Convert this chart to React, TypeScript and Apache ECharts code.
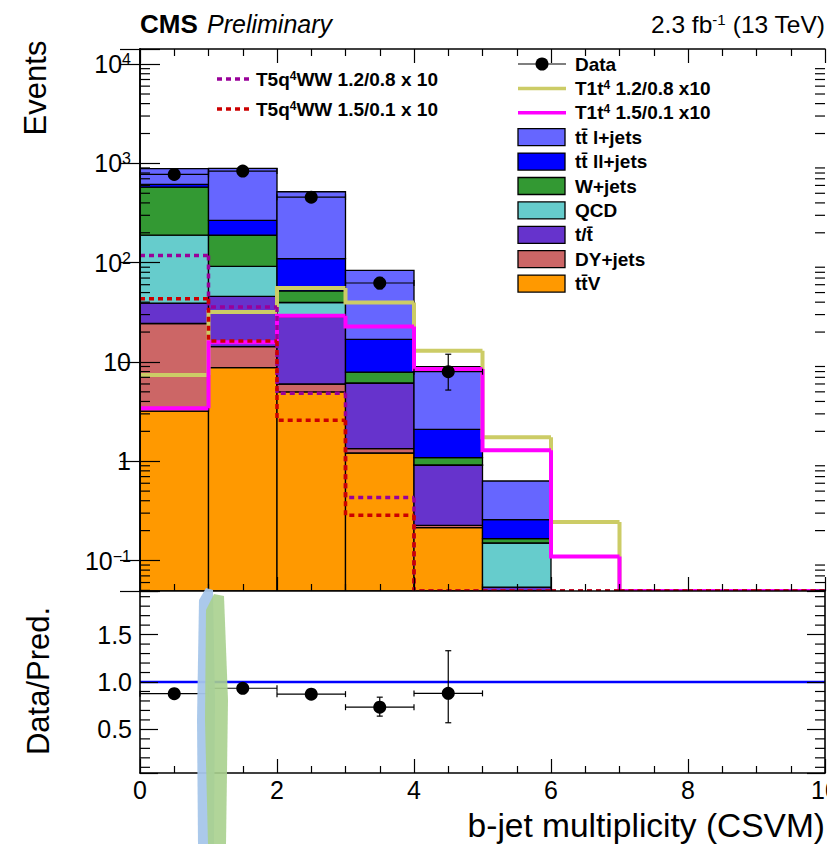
import React, { useEffect, useRef } from 'react';
import * as echarts from 'echarts';

// ---------------- data ----------------
const binLow = [0, 1, 2, 3, 4, 5, 6, 7, 8, 9];

// stacked backgrounds, bottom -> top
const ttV = [3.2, 8.75, 5.0, 1.21, 0.214, 0, 0, 0, 0, 0];
const dyJets = [21.2, 5.55, 1.0, 0.13, 0.012, 0, 0, 0, 0, 0];
const singleTop = [14.8, 31.4, 22.6, 4.76, 0.685, 0.054, 0, 0, 0, 0];
const qcd = [150, 46.1, 11.1, 0.05, 0.005, 0.096, 0, 0, 0, 0];
const wJets = [388, 97.2, 12.3, 1.75, 0.169, 0.016, 0, 0, 0, 0];
const ttDilep = [37, 78, 58, 9.0, 1.01, 0.092, 0, 0, 0, 0];
const ttSemilep = [270, 623, 408, 66.7, 6.88, 0.374, 0, 0, 0, 0];

// signals (x10)
const t1t4_12_08 = [7.4, 31.8, 55.6, 39.7, 13.0, 1.74, 0.244, 0, 0, 0];
const t1t4_15_01 = [3.41, 15.8, 29.2, 22.7, 8.5, 1.29, 0.11, 0, 0, 0];
const t5q4ww_12_08 = [118, 35.7, 4.83, 0.43, 0, 0, 0, 0, 0, 0];
const t5q4ww_15_01 = [43.3, 16.3, 2.59, 0.285, 0, 0, 0, 0, 0, 0];

// data
const dataX = [0.5, 1.5, 2.5, 3.5, 4.5];
const dataY = [774, 836, 457, 62.4, 7.98];
const dataLo = [748, 808, 436, 54.6, 5.21];
const dataHi = [801, 865, 479, 71.0, 11.96];

// ratio
const ratioY = [0.877, 0.934, 0.872, 0.734, 0.88];
const ratioLo = [0.845, 0.905, 0.835, 0.64, 0.57];
const ratioHi = [0.91, 0.965, 0.91, 0.84, 1.33];

const xTickLabels = ['0', '2', '4', '6', '8', '10'];

// ---------------- layout / style ----------------
const FONT = "'Liberation Sans', Arial, Helvetica, sans-serif";
const Y_MIN = 0.0493;
const Y_MAX = 14200;
const R_MIN = 0.04;
const R_MAX = 1.96;

const layers = [
  { name: 'tt\u0304V', color: '#ff9900', values: ttV },
  { name: 'DY+jets', color: '#cc6666', values: dyJets },
  { name: 't/t\u0304', color: '#6633cc', values: singleTop },
  { name: 'QCD', color: '#66cccc', values: qcd },
  { name: 'W+jets', color: '#339933', values: wJets },
  { name: 'tt\u0304 ll+jets', color: '#0000ff', values: ttDilep },
  { name: 'tt\u0304 l+jets', color: '#6666ff', values: ttSemilep },
];

function emptyGroup() {
  return { type: 'group', children: [] };
}

export default function App() {
  const ref = useRef<HTMLDivElement>(null);

  useEffect(() => {
    if (!ref.current) return;
    const chart = echarts.init(ref.current, undefined, { renderer: 'svg' });

    // stacked histogram layers
    let cum = binLow.map(() => 0);
    const stackSeries = layers.map((L) => {
      const data = binLow.map((x, i) => [x, cum[i], cum[i] + L.values[i]]);
      cum = cum.map((c, i) => c + L.values[i]);
      return {
        type: 'custom',
        name: L.name,
        xAxisIndex: 0,
        yAxisIndex: 0,
        clip: true,
        z: 2,
        data,
        renderItem: (params: any, api: any) => {
          const x = api.value(0);
          const lo = api.value(1);
          const hi = api.value(2);
          if (!(hi > lo) || hi <= Y_MIN) return emptyGroup();
          const p1 = api.coord([x, Math.max(hi, Y_MIN)]);
          const p2 = api.coord([x + 1, Math.max(lo, Y_MIN)]);
          return {
            type: 'rect',
            shape: { x: p1[0], y: p1[1], width: p2[0] - p1[0], height: p2[1] - p1[1] },
            style: { fill: L.color, stroke: '#000', lineWidth: 1.3 },
          };
        },
      };
    });

    const stepSeries = (vals: number[], color: string, width: number, dash: any, z: number) => ({
      type: 'custom',
      xAxisIndex: 0,
      yAxisIndex: 0,
      clip: true,
      z,
      data: binLow.map((x, i) => [x, vals[i], i > 0 ? vals[i - 1] : vals[i]]),
      renderItem: (params: any, api: any) => {
        const x = api.value(0);
        const v = Math.max(api.value(1), Y_MIN);
        const pv = Math.max(api.value(2), Y_MIN);
        const a = api.coord([x, pv]);
        const b = api.coord([x, v]);
        const c = api.coord([x + 1, v]);
        return {
          type: 'polyline',
          shape: { points: [a, b, c] },
          style: { stroke: color, lineWidth: width, lineDash: dash, fill: null },
        };
      },
    });

    const errorSeries = (xs: number[], ys: number[], los: number[], his: number[], xi: number, yi: number, z: number) => ({
      type: 'custom',
      xAxisIndex: xi,
      yAxisIndex: yi,
      clip: false,
      z,
      data: xs.map((x, i) => [x, ys[i], los[i], his[i]]),
      renderItem: (params: any, api: any) => {
        const x = api.value(0);
        const y = api.value(1);
        const l = api.coord([x - 0.5, y]);
        const r = api.coord([x + 0.5, y]);
        const lo = api.coord([x, api.value(2)]);
        const hi = api.coord([x, api.value(3)]);
        const st = { stroke: '#000', lineWidth: 1.2 };
        return {
          type: 'group',
          children: [
            { type: 'line', shape: { x1: l[0], y1: l[1], x2: r[0], y2: r[1] }, style: st },
            { type: 'line', shape: { x1: l[0], y1: l[1] - 3, x2: l[0], y2: l[1] + 3 }, style: st },
            { type: 'line', shape: { x1: r[0], y1: r[1] - 3, x2: r[0], y2: r[1] + 3 }, style: st },
            { type: 'line', shape: { x1: lo[0], y1: lo[1], x2: hi[0], y2: hi[1] }, style: st },
            { type: 'line', shape: { x1: lo[0] - 3, y1: lo[1], x2: lo[0] + 3, y2: lo[1] }, style: st },
            { type: 'line', shape: { x1: hi[0] - 3, y1: hi[1], x2: hi[0] + 3, y2: hi[1] }, style: st },
          ],
        };
      },
    });

    // minor tick marks for the log axis (2..9 x 10^n) and ratio axis
    const logMinor: number[][] = [];
    for (let d = -2; d <= 4; d++) {
      for (let k = 2; k <= 9; k++) {
        const v = k * Math.pow(10, d);
        if (v > Y_MIN && v < Y_MAX) logMinor.push([0, v]);
      }
    }
    const ratioMinor: number[][] = [];
    for (let k = 1; k <= 19; k++) {
      if (k % 5 !== 0) ratioMinor.push([0, k / 10]);
    }
    const minorTickSeries = (data: number[][], xi: number, yi: number, len: number) => ({
      type: 'custom',
      xAxisIndex: xi,
      yAxisIndex: yi,
      clip: false,
      z: 20,
      silent: true,
      data,
      renderItem: (params: any, api: any) => {
        const v = api.value(1);
        const p = api.coord([0, v]);
        const q = api.coord([10, v]);
        const st = { stroke: '#000', lineWidth: 1.2 };
        return {
          type: 'group',
          children: [
            { type: 'line', shape: { x1: p[0], y1: p[1], x2: p[0] + len, y2: p[1] }, style: st },
            { type: 'line', shape: { x1: q[0] - len, y1: q[1], x2: q[0], y2: q[1] }, style: st },
          ],
        };
      },
    });

    const axisLine = { show: true, lineStyle: { color: '#000', width: 1.6 } };
    const tickStyle = { color: '#000', width: 1.2 };

    const xAxisBase = (gridIndex: number, position: string, showLabel: boolean) => ({
      type: 'value',
      gridIndex,
      position,
      min: 0,
      max: 10,
      interval: 2,
      z: 10,
      axisLine,
      axisTick: { show: true, inside: true, length: 14, lineStyle: tickStyle },
      minorTick: { show: true, splitNumber: 4, length: 7, lineStyle: tickStyle },
      splitLine: { show: false },
      axisLabel: {
        show: showLabel,
        fontSize: 25,
        lineHeight: 24,
        fontFamily: FONT,
        color: '#000',
        margin: 5,
        formatter: (v: number) => xTickLabels[Math.round(v / 2)] ?? '',
      },
    });

    const logFormatter = (v: number) => {
      const e = Math.log10(v);
      const r = Math.round(e);
      if (Math.abs(e - r) > 1e-6) return '';
      if (r === 0) return '{b|1}';
      if (r === 1) return '{b|10}';
      return '{b|10}{s|' + (r < 0 ? '\u2212' : '') + Math.abs(r) + '}';
    };

    const yLogAxis = (position: string, showLabel: boolean) => ({
      type: 'log',
      logBase: 10,
      gridIndex: 0,
      position,
      min: Y_MIN,
      max: Y_MAX,
      z: 10,
      axisLine,
      axisTick: { show: true, inside: true, length: 20, lineStyle: tickStyle },
      splitLine: { show: false },
      minorTick: { show: false },
      axisLabel: {
        show: showLabel,
        margin: 9,
        formatter: logFormatter,
        rich: {
          b: { fontSize: 25, fontFamily: FONT, color: '#000' },
          s: { fontSize: 16, fontFamily: FONT, color: '#000', verticalAlign: 'top' },
        },
      },
    });

    const yRatioAxis = (position: string, showLabel: boolean) => ({
      type: 'value',
      gridIndex: 1,
      position,
      min: R_MIN,
      max: R_MAX,
      splitNumber: 4,
      z: 10,
      axisLine,
      axisTick: { show: true, inside: true, length: 18, lineStyle: tickStyle },
      splitLine: { show: false },
      axisLabel: {
        show: showLabel,
        margin: 8,
        fontSize: 25,
        fontFamily: FONT,
        color: '#000',
        formatter: (v: number) => (Math.abs(v * 2 - Math.round(v * 2)) < 1e-6 ? v.toFixed(1) : ''),
      },
    });

    const LF = 19;
    const legendText = { fontFamily: FONT, fontWeight: 'bold', fontSize: LF, fill: '#000' };
    const legendRich = {
      a: { fontFamily: FONT, fontWeight: 'bold', fontSize: LF, fill: '#000' },
      s: { fontFamily: FONT, fontWeight: 'bold', fontSize: 12, fill: '#000', verticalAlign: 'top' },
    };

    const rightLegendX = 518;
    const rightLegendY0 = 64;
    const dy = 24.4;
    const graphics: any[] = [];

    // right legend: data
    graphics.push({ type: 'line', shape: { x1: rightLegendX, y1: rightLegendY0, x2: rightLegendX + 48, y2: rightLegendY0 }, style: { stroke: '#000', lineWidth: 1.2 }, z: 100 });
    graphics.push({ type: 'circle', shape: { cx: rightLegendX + 24, cy: rightLegendY0, r: 6.5 }, style: { fill: '#000' }, z: 100 });
    graphics.push({ type: 'text', x: 575, y: rightLegendY0, style: { ...legendText, text: 'Data', verticalAlign: 'middle' }, z: 100 });
    // signals
    const sigLeg = [
      { color: '#cccc66', text: '{a|T1t}{s|4}{a| 1.2/0.8 x10}' },
      { color: '#ff00ff', text: '{a|T1t}{s|4}{a| 1.5/0.1 x10}' },
    ];
    sigLeg.forEach((s, i) => {
      const y = rightLegendY0 + dy * (i + 1);
      graphics.push({ type: 'line', shape: { x1: rightLegendX, y1: y, x2: rightLegendX + 48, y2: y }, style: { stroke: s.color, lineWidth: 3.5 }, z: 100 });
      graphics.push({ type: 'text', x: 575, y, style: { text: s.text, rich: legendRich, verticalAlign: 'middle' }, z: 100 });
    });
    // backgrounds (top of stack first)
    const bkgLegend = layers.slice().reverse();
    bkgLegend.forEach((L, i) => {
      const y = rightLegendY0 + dy * (i + 3);
      graphics.push({ type: 'rect', shape: { x: rightLegendX, y: y - 8.5, width: 47, height: 17 }, style: { fill: L.color, stroke: '#000', lineWidth: 1.3 }, z: 100 });
      graphics.push({ type: 'text', x: 575, y, style: { ...legendText, text: L.name, verticalAlign: 'middle' }, z: 100 });
    });
    // left legend
    const leftLeg = [
      { color: '#990099', text: '{a|T5q}{s|4}{a|WW 1.2/0.8 x 10}', y: 79 },
      { color: '#cc0000', text: '{a|T5q}{s|4}{a|WW 1.5/0.1 x 10}', y: 109 },
    ];
    leftLeg.forEach((s) => {
      graphics.push({ type: 'line', shape: { x1: 217, y1: s.y, x2: 251, y2: s.y }, style: { stroke: s.color, lineWidth: 3.5, lineDash: [5, 4] }, z: 100 });
      graphics.push({ type: 'text', x: 256, y: s.y, style: { text: s.text, rich: legendRich, verticalAlign: 'middle' }, z: 100 });
    });

    // header
    graphics.push({ type: 'text', x: 140, y: 24, z: 100, style: { text: 'CMS', fontFamily: FONT, fontWeight: 'bold', fontSize: 26, fill: '#000', verticalAlign: 'middle' } });
    graphics.push({ type: 'text', x: 207, y: 24, z: 100, style: { text: 'Preliminary', fontFamily: FONT, fontStyle: 'italic', fontSize: 25, fill: '#000', verticalAlign: 'middle' } });
    graphics.push({
      type: 'text', x: 825, y: 24, z: 100,
      style: {
        text: '{n|2.3 fb}{s|-1}{n| (13 TeV)}',
        align: 'right',
        verticalAlign: 'middle',
        rich: {
          n: { fontFamily: FONT, fontSize: 24.5, fill: '#000' },
          s: { fontFamily: FONT, fontSize: 15, fill: '#000', verticalAlign: 'top' },
        },
      },
    });
    // axis titles
    graphics.push({ type: 'text', x: 35, y: 88, rotation: Math.PI / 2, z: 100, style: { text: 'Events', fontFamily: FONT, fontSize: 31, fill: '#000', align: 'center', verticalAlign: 'middle' } });
    graphics.push({ type: 'text', x: 38, y: 681, rotation: Math.PI / 2, z: 100, style: { text: 'Data/Pred.', fontFamily: FONT, fontSize: 31, fill: '#000', align: 'center', verticalAlign: 'middle' } });
    graphics.push({ type: 'text', x: 825, y: 825, z: 100, style: { text: 'b-jet multiplicity (CSVM)', fontFamily: FONT, fontSize: 33.5, lineHeight: 30, fill: '#000', align: 'right', verticalAlign: 'middle' } });

    // smear artifact over the ratio panel
    graphics.push({ type: 'polygon', z: 200, shape: { points: [[199, 600], [206, 588], [213, 590], [215, 700], [214, 844], [198, 844], [197, 720]] }, style: { fill: '#a7c6ea', opacity: 0.95 } });
    graphics.push({ type: 'polygon', z: 201, shape: { points: [[206, 610], [214, 594], [224, 596], [228, 700], [226, 844], [208, 844], [205, 720]] }, style: { fill: '#a9d08e', opacity: 0.9 } });

    const option: any = {
      animation: false,
      backgroundColor: '#fff',
      grid: [
        { left: 140, top: 49, width: 685, height: 542, outerBoundsMode: 'none', containLabel: false },
        { left: 140, top: 591, width: 685, height: 182, outerBoundsMode: 'none', containLabel: false },
      ],
      xAxis: [
        xAxisBase(0, 'bottom', false),
        xAxisBase(0, 'top', false),
        xAxisBase(1, 'bottom', true),
      ],
      yAxis: [
        yLogAxis('left', true),
        yLogAxis('right', false),
        yRatioAxis('left', true),
        yRatioAxis('right', false),
      ],
      graphic: graphics,
      series: [
        ...stackSeries,
        stepSeries(t1t4_12_08, '#cccc66', 4, null, 5),
        stepSeries(t1t4_15_01, '#ff00ff', 4, null, 6),
        stepSeries(t5q4ww_12_08, '#990099', 3.5, [5, 4], 7),
        stepSeries(t5q4ww_15_01, '#cc0000', 3.5, [5, 4], 8),
        errorSeries(dataX, dataY, dataLo, dataHi, 0, 0, 9),
        {
          type: 'scatter',
          xAxisIndex: 0,
          yAxisIndex: 0,
          z: 10,
          symbol: 'circle',
          symbolSize: 13,
          itemStyle: { color: '#000', opacity: 1 },
          data: dataX.map((x, i) => [x, dataY[i]]),
        },
        minorTickSeries(logMinor, 0, 0, 10),
        {
          type: 'line',
          xAxisIndex: 2,
          yAxisIndex: 2,
          z: 3,
          symbol: 'none',
          lineStyle: { color: '#0000ff', width: 2.5 },
          data: [[0, 1], [10, 1]],
        },
        errorSeries(dataX, ratioY, ratioLo, ratioHi, 2, 2, 9),
        {
          type: 'scatter',
          xAxisIndex: 2,
          yAxisIndex: 2,
          z: 10,
          symbol: 'circle',
          symbolSize: 13,
          itemStyle: { color: '#000', opacity: 1 },
          data: dataX.map((x, i) => [x, ratioY[i]]),
        },
        minorTickSeries(ratioMinor, 2, 2, 10),
      ],
    };

    chart.setOption(option);
    return () => chart.dispose();
  }, []);

  return <div ref={ref} style={{ position: 'fixed', left: 0, top: 0, width: 827, height: 844, background: '#fff' }} />;
}
